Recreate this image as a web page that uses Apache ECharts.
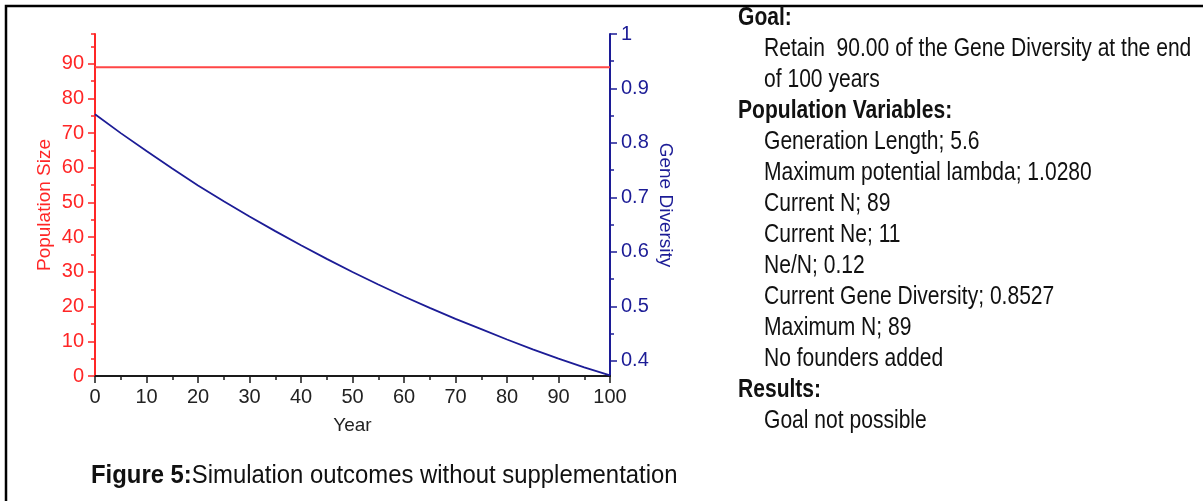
<!DOCTYPE html>
<html>
<head>
<meta charset="utf-8">
<script src="https://cdn.jsdelivr.net/npm/echarts@6/dist/echarts.min.js"></script>
<style>
html,body{margin:0;padding:0;background:#fff;}
#chart{width:1203px;height:501px;}
</style>
</head>
<body>
<div id="chart"></div>
<script>
// ---- data ----
const years = [0,5,10,15,20,25,30,35,40,45,50,55,60,65,70,75,80,85,90,95,100];
const geneDiversity = [0.8527,0.818,0.785,0.753,0.722,0.693,0.665,0.638,0.612,0.587,0.563,0.540,0.518,0.497,0.477,0.458,0.439,0.421,0.404,0.388,0.373];
const populationSize = [89,89,89,89,89,89,89,89,89,89,89,89,89,89,89,89,89,89,89,89,89];

const popTicks = [0,10,20,30,40,50,60,70,80,90];
const popMinorTicks = [5,15,25,35,45,55,65,75,85,95,98.56];
const gdTicks = [0.4,0.5,0.6,0.7,0.8,0.9,1];
const gdMinorTicks = [0.45,0.55,0.65,0.75,0.85,0.95];

const titleBold = 'Figure 5:';
const titleText = 'Simulation outcomes without supplementation';

const noteLines = [
  ['h','Goal:'],
  ['t','Retain  90.00 of the Gene Diversity at the end'],
  ['t','of 100 years'],
  ['h','Population Variables:'],
  ['t','Generation Length; 5.6'],
  ['t','Maximum potential lambda; 1.0280'],
  ['t','Current N; 89'],
  ['t','Current Ne; 11'],
  ['t','Ne/N; 0.12'],
  ['t','Current Gene Diversity; 0.8527'],
  ['t','Maximum N; 89'],
  ['t','No founders added'],
  ['h','Results:'],
  ['t','Goal not possible']
];

// ---- styling ----
const FONT = "'Liberation Sans',Arial,sans-serif";
const RED = '#ff2626';
const RED_LINE = '#ff4646';
const NAVY = '#1c1c96';
const BLACK = '#1a1a1a';

const chart = echarts.init(document.getElementById('chart'), null, {renderer:'canvas'});

const graphics = [
  {type:'rect', shape:{x:6,y:6,width:1500,height:800}, style:{fill:'none',stroke:'#000',lineWidth:2.5}, silent:true},
  {type:'text', x:91, y:476, scaleX:0.955, style:{
    text:'{b|' + titleBold + '}{r|' + titleText + '}',
    verticalAlign:'middle',
    rich:{
      b:{fontFamily:FONT,fontSize:25,fontWeight:'bold',fill:'#111'},
      r:{fontFamily:FONT,fontSize:25,fill:'#111'}
    }
  }}
];
noteLines.forEach(function(l, i){
  graphics.push({type:'text', x: l[0]==='h' ? 738 : 764, y: 18 + 31*i, scaleX:0.81, style:{
    text:l[1], fontFamily:FONT, fontSize:26, fontWeight: l[0]==='h' ? 'bold':'normal',
    fill:'#111', verticalAlign:'middle'
  }});
});

const option = {
  animation:false,
  backgroundColor:'#fff',
  grid:{left:95, right:593, top:34, bottom:125, containLabel:false},
  xAxis:{
    type:'value', min:0, max:100, interval:10,
    axisLine:{show:true, lineStyle:{color:BLACK, width:2}},
    axisTick:{show:true, length:7, lineStyle:{color:BLACK, width:1.5}},
    minorTick:{show:true, splitNumber:2, length:4, lineStyle:{color:BLACK, width:1.5}},
    axisLabel:{color:'#222', fontFamily:FONT, fontSize:20, margin:11},
    splitLine:{show:false},
    name:'Year', nameLocation:'middle', nameGap:40,
    nameTextStyle:{color:'#222', fontFamily:FONT, fontSize:19}
  },
  yAxis:[
    {
      type:'value', position:'left', min:0, max:98.56,
      axisLine:{show:true, lineStyle:{color:RED, width:2}},
      axisTick:{show:true, length:7, customValues:popTicks, lineStyle:{color:RED, width:1.5}},
      axisLabel:{show:true, customValues:popTicks, color:RED, fontFamily:FONT, fontSize:20, margin:11},
      splitLine:{show:false},
      name:'Population Size', nameLocation:'middle', nameGap:41, nameRotate:90,
      nameTextStyle:{color:RED, fontFamily:FONT, fontSize:19}
    },
    {
      type:'value', position:'left', min:0, max:98.56,
      axisLine:{show:false},
      axisTick:{show:true, length:4, customValues:popMinorTicks, lineStyle:{color:RED, width:1.5}},
      axisLabel:{show:false},
      splitLine:{show:false}
    },
    {
      type:'value', position:'right', min:0.372, max:1,
      axisLine:{show:true, lineStyle:{color:NAVY, width:2}},
      axisTick:{show:true, length:7, customValues:gdTicks, lineStyle:{color:NAVY, width:1.5}},
      axisLabel:{show:true, customValues:gdTicks, color:NAVY, fontFamily:FONT, fontSize:20, margin:11,
        formatter:function(v){ return v >= 0.999 ? '1' : v.toFixed(1); }},
      splitLine:{show:false},
      name:'Gene Diversity', nameLocation:'middle', nameGap:46, nameRotate:-90,
      nameTextStyle:{color:NAVY, fontFamily:FONT, fontSize:19}
    },
    {
      type:'value', position:'right', min:0.372, max:1,
      axisLine:{show:false},
      axisTick:{show:true, length:4, customValues:gdMinorTicks, lineStyle:{color:NAVY, width:1.5}},
      axisLabel:{show:false},
      splitLine:{show:false}
    }
  ],
  series:[
    {
      name:'Population Size', type:'line', yAxisIndex:0, symbol:'none',
      lineStyle:{color:RED_LINE, width:2}, itemStyle:{color:RED_LINE},
      data: years.map(function(y,i){ return [y, populationSize[i]]; })
    },
    {
      name:'Gene Diversity', type:'line', yAxisIndex:2, symbol:'none',
      lineStyle:{color:NAVY, width:1.8}, itemStyle:{color:NAVY},
      data: years.map(function(y,i){ return [y, geneDiversity[i]]; })
    }
  ],
  graphic: graphics
};
chart.setOption(option);
</script>
</body>
</html>
